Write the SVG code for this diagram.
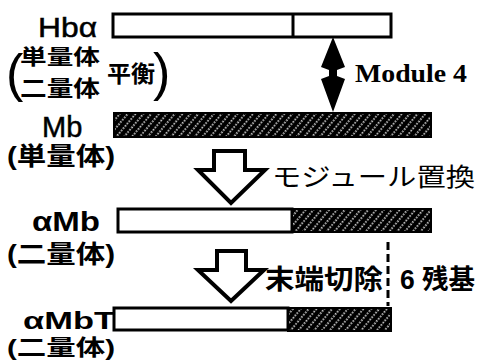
<svg xmlns="http://www.w3.org/2000/svg" width="477" height="360" viewBox="0 0 477 360">
<style>
.lat{font-family:"Liberation Sans",Arial,sans-serif;fill:#000}
.ser{font-family:"Liberation Serif","Times New Roman",serif;font-weight:bold;fill:#000}
.jp{font-family:"Liberation Sans","Noto Sans CJK JP",sans-serif;fill:#000}
.bar{fill:#fff;stroke:#000;stroke-width:3}
.hat{fill:url(#hatch);stroke:#000;stroke-width:2}
.big{fill:#fff;stroke:#000;stroke-width:4;stroke-linejoin:miter}
</style>
<defs>
<pattern id="hatch" patternUnits="userSpaceOnUse" width="6" height="6" patternTransform="rotate(40)">
<rect width="6" height="6" fill="#000"/>
<line x1="3" y1="0" x2="3" y2="6" stroke="#fff" stroke-width="1.5" stroke-dasharray="1.6 1.4"/>
</pattern>
</defs>
<rect width="477" height="360" fill="#fff"/>

<g id="hba">
<rect class="bar" x="113" y="14" width="278" height="23"/>
<line x1="293" y1="14" x2="293" y2="37" stroke="#000" stroke-width="3"/>
<text class="lat" x="38" y="37" font-size="27" font-weight="500" stroke="#000" stroke-width="0.5" textLength="59" lengthAdjust="spacingAndGlyphs">Hbα</text>
<text class="jp" x="6" y="91" font-size="52">(</text>
<text class="jp" x="20" y="64" font-size="21" font-weight="bold" textLength="80" lengthAdjust="spacingAndGlyphs">単量体</text>
<text class="jp" x="20" y="96" font-size="22" font-weight="bold" textLength="80" lengthAdjust="spacingAndGlyphs">二量体</text>
<text class="jp" x="107" y="82" font-size="23" font-weight="bold" textLength="48" lengthAdjust="spacingAndGlyphs">平衡</text>
<text class="jp" x="153" y="90" font-size="52">)</text>
</g>

<g id="mb">
<rect class="hat" x="114" y="113" width="317" height="24"/>
<text class="lat" x="42" y="137" font-size="29" stroke="#000" stroke-width="0.5">Mb</text>
<text class="jp" x="7" y="165" font-size="25" font-weight="bold" textLength="108" lengthAdjust="spacingAndGlyphs">(単量体)</text>
</g>

<g id="amb">
<rect class="bar" x="118" y="209" width="174" height="23"/>
<rect class="hat" x="292" y="209" width="139" height="23"/>
<text class="lat" x="32" y="231" font-size="27" font-weight="bold" textLength="68" lengthAdjust="spacingAndGlyphs">αMb</text>
<text class="jp" x="7" y="263" font-size="25" font-weight="bold" textLength="108" lengthAdjust="spacingAndGlyphs">(二量体)</text>
</g>

<g id="ambt">
<rect class="bar" x="114" y="308" width="174" height="22"/>
<rect class="hat" x="288" y="308" width="103" height="23"/>
<text class="lat" x="23" y="329" font-size="24" font-weight="bold" textLength="92" lengthAdjust="spacingAndGlyphs">αMbT</text>
<text class="jp" x="7" y="355" font-size="22" font-weight="bold" textLength="108" lengthAdjust="spacingAndGlyphs">(二量体)</text>
</g>

<g id="connectors">
<path d="M333,37 L345,67 L337,70 L337,76 L345,79 L333,112 L321,79 L329,76 L329,70 L321,67 Z" fill="#000"/>
<text class="ser" x="355" y="82" font-size="25" textLength="112" lengthAdjust="spacingAndGlyphs">Module 4</text>
<polygon class="big" points="214,151 245,151 245,170 265,170 231,203 198,170 214,170"/>
<text class="jp" x="272" y="186" font-size="25" textLength="203" lengthAdjust="spacingAndGlyphs">モジュール置換</text>
<polygon class="big" points="217,251 246,251 246,270 264,270 231,301 198,270 217,270"/>
<text class="jp" x="265" y="289" font-size="27" font-weight="bold" textLength="118" lengthAdjust="spacingAndGlyphs">末端切除</text>
<line x1="388" y1="242" x2="388" y2="306" stroke="#000" stroke-width="3" stroke-dasharray="8 4"/>
<text class="jp" x="400" y="289" font-size="27" font-weight="bold" textLength="75" lengthAdjust="spacingAndGlyphs">6 残基</text>
</g>
</svg>
